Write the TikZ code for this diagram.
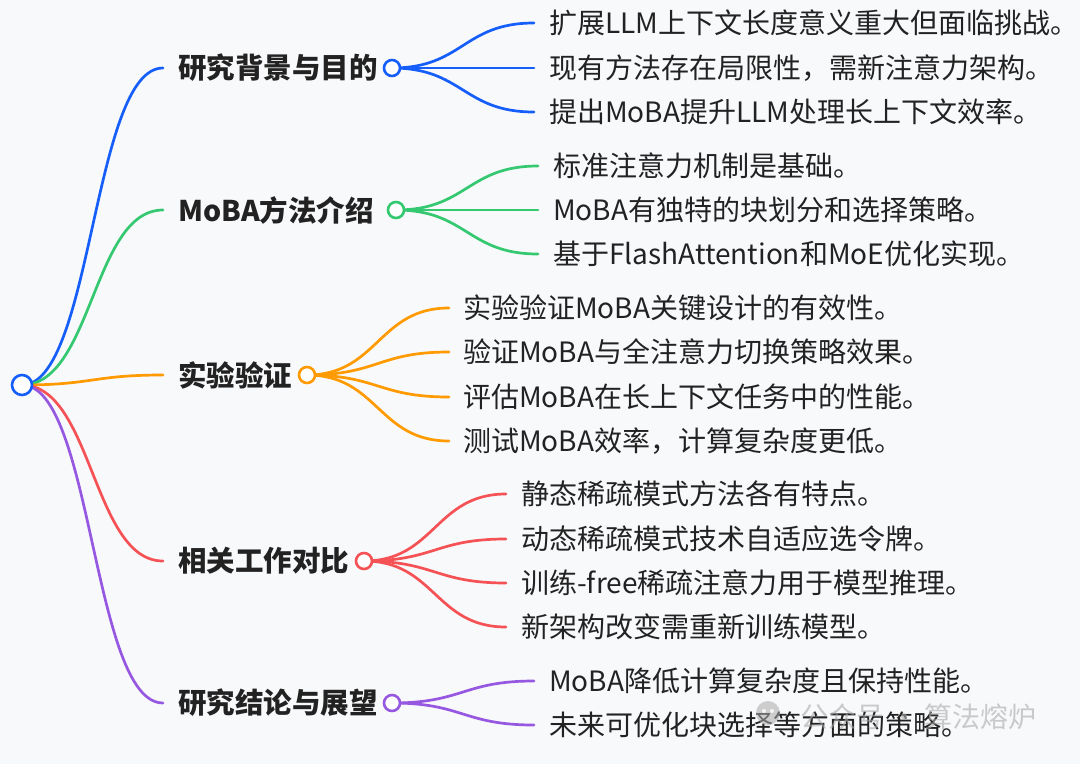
\documentclass[tikz,border=0pt]{standalone}
\usepackage{fontspec}
\setmainfont{Noto Sans CJK SC}
\usetikzlibrary{calc}
\definecolor{bgc}{RGB}{248,249,251}
\definecolor{txt}{RGB}{34,34,34}
\definecolor{cblue}{RGB}{22,94,250}
\definecolor{cgreen}{RGB}{52,200,112}
\definecolor{corange}{RGB}{255,154,0}
\definecolor{cred}{RGB}{245,82,86}
\definecolor{cpurple}{RGB}{150,88,225}
\definecolor{wm}{RGB}{170,170,170}
\tikzset{
  lone/.style={anchor=west, inner sep=0pt, text=txt, font=\fontsize{28.5}{30}\selectfont\bfseries},
  ltwo/.style={anchor=west, inner sep=0pt, text=txt, font=\fontsize{28}{30}\selectfont},
  link/.style={line width=2.7pt, line cap=round},
  dot/.style={circle, draw, fill=white, line width=2.6pt, minimum size=16pt, inner sep=0pt},
  rootdot/.style={dot, minimum size=20pt},
}
\newcommand{\mmlink}[3]{\draw[link,#3] let \p1=(#1), \p2=(#2) in (\p1) .. controls ({(\x1+\x2)/2},\y1) and ({(\x1+\x2)/2},\y2) .. (\p2);}
\begin{document}
\begin{tikzpicture}[x=1pt,y=-1pt]
\fill[bgc] (0,0) rectangle (1080,764);
\useasboundingbox (0,0) rectangle (1080,764);
% centres
\coordinate (R) at (22,385);
\coordinate (A) at (392,68);
\coordinate (B) at (396,210);
\coordinate (C) at (307,375);
\coordinate (D) at (364,561);
\coordinate (E) at (392,703);
% level-1 labels
\node[lone] (A1) at (178,68) {研究背景与目的};
\node[lone] (B1) at (178,210) {MoBA方法介绍};
\node[lone] (C1) at (178,375) {实验验证};
\node[lone] (D1) at (178,561) {相关工作对比};
\node[lone] (E1) at (178,703) {研究结论与展望};
% level-2 labels
\node[ltwo] (a1) at (549,23) {扩展LLM上下文长度意义重大但面临挑战。};
\node[ltwo] (a2) at (549,68) {现有方法存在局限性，需新注意力架构。};
\node[ltwo] (a3) at (549,112) {提出MoBA提升LLM处理长上下文效率。};
\node[ltwo] (b1) at (553,166) {标准注意力机制是基础。};
\node[ltwo] (b2) at (553,210) {MoBA有独特的块划分和选择策略。};
\node[ltwo] (b3) at (553,254) {基于FlashAttention和MoE优化实现。};
\node[ltwo] (c1) at (463,308) {实验验证MoBA关键设计的有效性。};
\node[ltwo] (c2) at (463,352) {验证MoBA与全注意力切换策略效果。};
\node[ltwo] (c3) at (463,397) {评估MoBA在长上下文任务中的性能。};
\node[ltwo] (c4) at (463,441) {测试MoBA效率，计算复杂度更低。};
\node[ltwo] (d1) at (521,494) {静态稀疏模式方法各有特点。};
\node[ltwo] (d2) at (521,539) {动态稀疏模式技术自适应选令牌。};
\node[ltwo] (d3) at (521,583) {训练-free稀疏注意力用于模型推理。};
\node[ltwo] (d4) at (521,627) {新架构改变需重新训练模型。};
\node[ltwo] (e1) at (549,681) {MoBA降低计算复杂度且保持性能。};
\node[ltwo] (e2) at (549,725) {未来可优化块选择等方面的策略。};
% root links
\mmlink{R}{$(A1.west)+(-15,0)$}{cblue}
\mmlink{R}{$(B1.west)+(-15,0)$}{cgreen}
\mmlink{R}{$(C1.west)+(-15,0)$}{corange}
\mmlink{R}{$(D1.west)+(-15,0)$}{cred}
\mmlink{R}{$(E1.west)+(-15,0)$}{cpurple}
% level-2 links
\foreach \t in {a1,a2,a3}{\mmlink{A}{$(\t.west)+(-15,0)$}{cblue}}
\foreach \t in {b1,b2,b3}{\mmlink{B}{$(\t.west)+(-15,0)$}{cgreen}}
\foreach \t in {c1,c2,c3,c4}{\mmlink{C}{$(\t.west)+(-14,0)$}{corange}}
\foreach \t in {d1,d2,d3,d4}{\mmlink{D}{$(\t.west)+(-15,0)$}{cred}}
\foreach \t in {e1,e2}{\mmlink{E}{$(\t.west)+(-15,0)$}{cpurple}}
% circles
\node[rootdot, draw=cblue] (Rd) at (R) {};
\node[dot, draw=cblue] (Ad) at (A) {};
\node[dot, draw=cgreen] (Bd) at (B) {};
\node[dot, draw=corange] (Cd) at (C) {};
\node[dot, draw=cred] (Dd) at (D) {};
\node[dot, draw=cpurple] (Ed) at (E) {};
% watermark
\node[circle, fill=wm, opacity=0.55, minimum size=24pt, inner sep=0pt] (wmi) at (768,713) {};
\fill[white, opacity=0.8] ($(wmi)+(-4,-2)$) circle (2pt) ($(wmi)+(4,-2)$) circle (2pt);
\node[anchor=west, inner sep=0pt, text=wm, opacity=0.6, font=\fontsize{28}{30}\selectfont] (wmt) at (800,717) {公众号 · 算法熔炉};
\end{tikzpicture}
\end{document}
